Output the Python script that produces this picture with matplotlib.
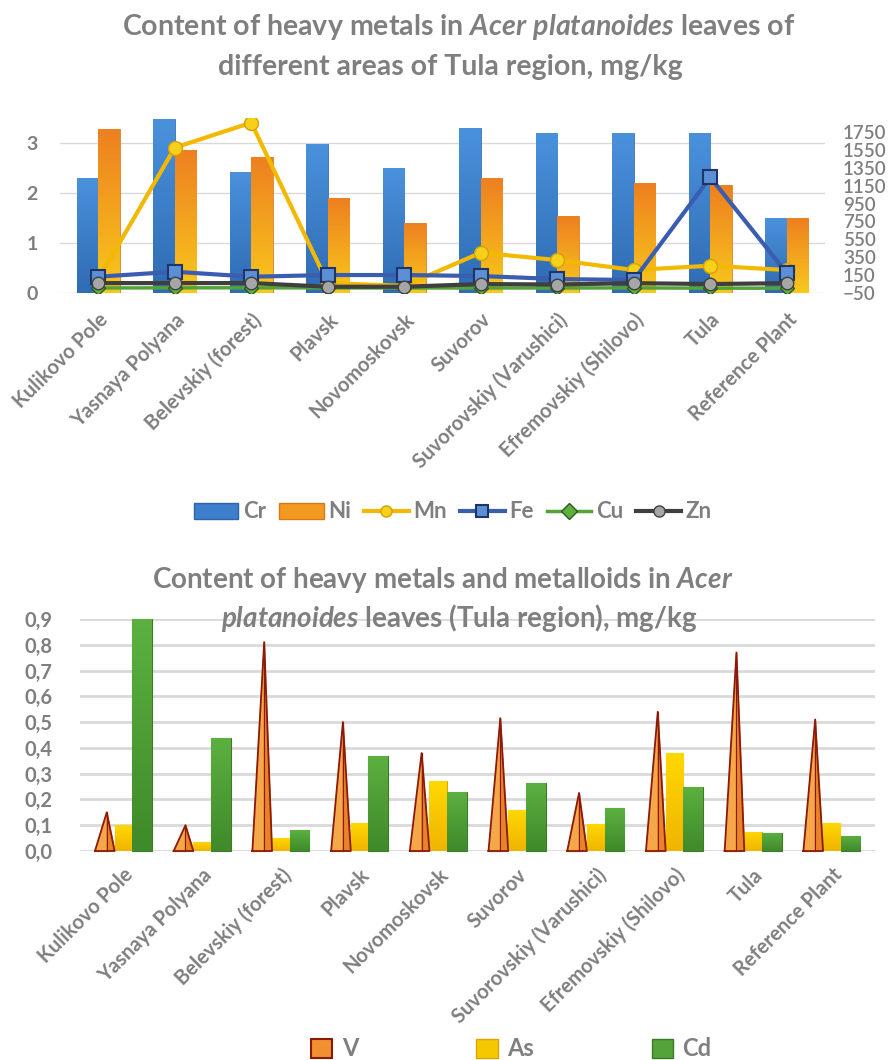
import matplotlib
matplotlib.use("Agg")
import matplotlib.pyplot as plt
import numpy as np
from matplotlib.colors import LinearSegmentedColormap
from matplotlib.patches import Patch
from matplotlib.lines import Line2D

sites = ["Kulikovo Pole", "Yasnaya Polyana", "Belevskiy (forest)", "Plavsk", "Novomoskovsk",
         "Suvorov", "Suvorovskiy (Varushici)", "Efremovskiy (Shilovo)", "Tula", "Reference Plant"]

# top chart, mg/kg
cr = [2.3, 3.48, 2.43, 2.98, 2.5, 3.3, 3.2, 3.2, 3.2, 1.5]
ni = [3.28, 2.86, 2.72, 1.9, 1.4, 2.3, 1.54, 2.2, 2.16, 1.5]
mn = [100, 1575, 1855, 60, 30, 400, 318, 207, 255, 207]
fe = [132, 188, 132, 151, 151, 140, 106, 95, 1244, 173]
cu = [6, 8, 8, 7, 6, 6, 6, 7, 4, 4]
zn = [61, 61, 61, 20, 20, 50, 45, 60, 50, 60]
left_ticks = [0, 1, 2, 3]
right_ticks = list(range(-50, 1751, 200))

# bottom chart, mg/kg
v = [0.15, 0.10, 0.81, 0.50, 0.38, 0.515, 0.225, 0.54, 0.77, 0.51]
as_ = [0.10, 0.035, 0.05, 0.11, 0.27, 0.16, 0.105, 0.38, 0.075, 0.11]
cd = [0.90, 0.44, 0.08, 0.37, 0.23, 0.265, 0.165, 0.25, 0.07, 0.06]
bottom_ticks = [0.0, 0.1, 0.2, 0.3, 0.4, 0.5, 0.6, 0.7, 0.8, 0.9]

GREY = "#7f7f7f"
plt.rcParams['font.family'] = ['Lato', 'DejaVu Sans']
plt.rcParams['mathtext.fontset'] = 'custom'
plt.rcParams['mathtext.rm'] = 'Lato:bold'
plt.rcParams['mathtext.it'] = 'Lato:italic:bold'
plt.rcParams['mathtext.bf'] = 'Lato:bold'


def grad_bars(ax, bars, c_top, c_bot):
    cmap = LinearSegmentedColormap.from_list('g', [c_bot, c_top])
    for b in bars:
        x0, y0 = b.get_x(), b.get_y()
        w, h = b.get_width(), b.get_height()
        im = ax.imshow(np.linspace(0, 1, 64).reshape(-1, 1), extent=[x0, x0 + w, y0, y0 + h],
                       origin='lower', cmap=cmap, aspect='auto', zorder=b.get_zorder())
        im.set_clip_path(b)
        b.set_facecolor('none')


fig = plt.figure(figsize=(8.91, 10.6), dpi=100)
x = np.arange(len(sites))

# ---------- top chart ----------
ax1 = fig.add_axes([60 / 891, 1 - 293 / 1060, 765 / 891, 175 / 1060])
b_cr = ax1.bar(x - 0.14, cr, 0.28, color='#3d7fcc', edgecolor='#2d65a8', linewidth=0.6, zorder=2)
b_ni = ax1.bar(x + 0.14, ni, 0.28, color='#f29a20', edgecolor='#d9791a', linewidth=0.6, zorder=2)
grad_bars(ax1, b_cr, '#4a91dc', '#2f6cb3')
grad_bars(ax1, b_ni, '#ee8020', '#f8c81c')
ax1.set_xlim(-0.5, len(sites) - 0.5)
ax1.set_ylim(0, 3.5)
ax1.set_yticks(left_ticks)
ax1.grid(axis='y', color='#d9d9d9', linewidth=1)
ax1.set_axisbelow(True)
for s in ax1.spines.values():
    s.set_visible(False)
ax1.tick_params(axis='y', length=0, pad=16, labelsize=14, labelcolor=GREY)
ax1.tick_params(axis='x', length=0, pad=12)
for t in ax1.get_yticklabels():
    t.set_fontweight('bold')
ax1.set_xticks(x)
ax1.set_xticklabels(sites, rotation=45, ha='right', rotation_mode='anchor',
                    fontsize=14.5, fontweight='bold', color=GREY)

ax2 = ax1.twinx()
ax2.set_ylim(-50, 1907)
ax2.plot(x, mn, color='#f2b900', lw=3, marker='o', ms=10, mfc='#f7d01c', mec='#d7a200', zorder=3)
ax2.plot(x, fe, color='#3a5db0', lw=3, marker='s', ms=10, mfc='#5b8fd6', mec='#1f3468', mew=1.5, zorder=4)
ax2.plot(x, cu, color='#53a33a', lw=2.5, marker='D', ms=7, mfc='#5fb040', mec='#2d5a1e', zorder=5)
ax2.plot(x, zn, color='#3f3f3f', lw=3, marker='o', ms=9, mfc='#a6a6a6', mec='#3f3f3f', zorder=6)
ax2.set_yticks(right_ticks)
for s in ax2.spines.values():
    s.set_visible(False)
ax2.tick_params(axis='y', length=0, pad=13, labelsize=13.5, labelcolor=GREY)
for t in ax2.get_yticklabels():
    t.set_fontweight('semibold')

fig.text(0.515, 0.975, "Content of heavy metals in $\\it{Acer\\ platanoides}$ leaves of",
         ha='center', va='center', fontsize=20.5, fontweight='bold', color=GREY)
fig.text(0.505, 0.937, "different areas of Tula region, mg/kg",
         ha='center', va='center', fontsize=20.5, fontweight='bold', color=GREY)

handles = [Patch(facecolor='#3d7fcc', edgecolor='#2d65a8'),
           Patch(facecolor='#f29a20', edgecolor='#d9791a'),
           Line2D([], [], color='#f2b900', lw=3, marker='o', ms=8, mfc='#f7d01c', mec='#d7a200'),
           Line2D([], [], color='#3a5db0', lw=3, marker='s', ms=8, mfc='#5b8fd6', mec='#1f3468', mew=1.5),
           Line2D([], [], color='#53a33a', lw=2.5, marker='D', ms=8, mfc='#5fb040', mec='#2d5a1e'),
           Line2D([], [], color='#3f3f3f', lw=3, marker='o', ms=8, mfc='#a6a6a6', mec='#3f3f3f')]
leg = fig.legend(handles, ["Cr", "Ni", "Mn", "Fe", "Cu", "Zn"], loc='center', ncol=6,
                 bbox_to_anchor=(0.508, 1 - 512 / 1060), frameon=False, handlelength=2.0,
                 handletextpad=0.2, columnspacing=0.6, prop={'size': 16, 'weight': 'bold'})
for t in leg.get_texts():
    t.set_color(GREY)

# ---------- bottom chart ----------
ax3 = fig.add_axes([80 / 891, 1 - 851 / 1060, 795 / 891, 232 / 1060])
ax3.set_ylim(0, 0.9)
ax3.set_yticks(bottom_ticks)
ax3.set_yticklabels([f"{t:.1f}".replace('.', ',') for t in bottom_ticks])
ax3.grid(axis='y', color='#d9d9d9', linewidth=2)
ax3.set_axisbelow(True)
for s in ax3.spines.values():
    s.set_visible(False)
ax3.tick_params(axis='y', length=0, pad=20, labelsize=14.5, labelcolor=GREY)
ax3.tick_params(axis='x', length=0, pad=10)
for t in ax3.get_yticklabels():
    t.set_fontweight('bold')

# V drawn as pyramids: lit left face, shaded right face
for xi, val in zip(x, v):
    l, r, m = xi - 0.36, xi - 0.11, xi - 0.21
    ax3.fill([l, m, m], [0, 0, val], color='#f5a84a', zorder=3, clip_on=False)
    ax3.fill([m, r, m], [0, 0, val], color='#e8832a', zorder=3, clip_on=False)
    ax3.plot([l, m, r, l], [0, val, 0, 0], color='#8b1a0a', lw=1.3, zorder=4, clip_on=False)
    ax3.plot([m, m], [0, val], color='#8b1a0a', lw=0.8, zorder=4, clip_on=False)
b_as = ax3.bar(x, as_, 0.22, color='#f6c800', edgecolor='#d9a800', linewidth=0.8, zorder=3)
b_cd = ax3.bar(x + 0.24, cd, 0.25, color='#53a23a', edgecolor='#3c7a28', linewidth=0.8, zorder=3,
               clip_on=False)
grad_bars(ax3, b_as, '#ffd800', '#f0b400')
grad_bars(ax3, b_cd, '#5cb040', '#3f8a2a')
ax3.set_xlim(-0.55, len(sites) - 0.45)
ax3.set_ylim(0, 0.9)
ax3.set_xticks(x)
ax3.set_xticklabels(sites, rotation=45, ha='right', rotation_mode='anchor',
                    fontsize=14.5, fontweight='bold', color=GREY)

fig.text(0.497, 1 - 580 / 1060, "Content of heavy metals and metalloids in $\\it{Acer}$",
         ha='center', va='center', fontsize=20, fontweight='bold', color=GREY)
fig.text(0.515, 1 - 618 / 1060, "$\\it{platanoides}$ leaves (Tula region), mg/kg",
         ha='center', va='center', fontsize=20, fontweight='bold', color=GREY)

handles2 = [Patch(facecolor='#f09030', edgecolor='#8b1a0a', linewidth=1.5),
            Patch(facecolor='#f6c800', edgecolor='#d9a800'),
            Patch(facecolor='#53a23a', edgecolor='#3c7a28')]
leg2 = fig.legend(handles2, ["V", "As", "Cd"], loc='center', ncol=3,
                  bbox_to_anchor=(0.574, 1 - 1049 / 1060), frameon=False, handlelength=0.9,
                  handleheight=0.9, handletextpad=0.4, columnspacing=5.0,
                  prop={'size': 17, 'weight': 'bold'})
for t in leg2.get_texts():
    t.set_color(GREY)

fig.savefig("out.png", dpi=100)
